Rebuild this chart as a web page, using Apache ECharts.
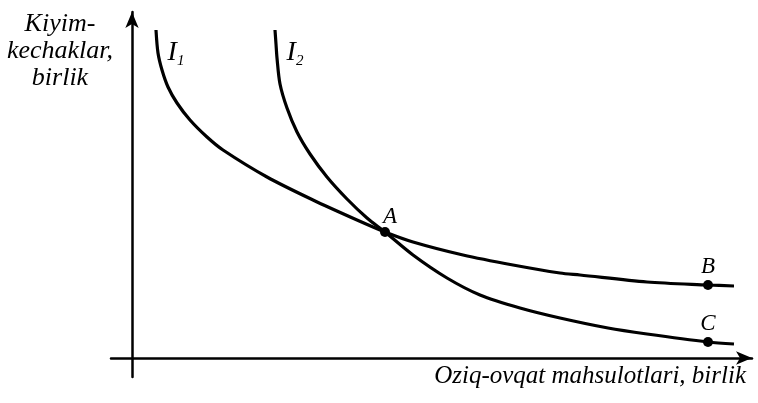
<!DOCTYPE html>
<html>
<head>
<meta charset="utf-8">
<script src="https://cdn.jsdelivr.net/npm/echarts@6/dist/echarts.min.js"></script>
<style>html,body{margin:0;padding:0;background:#fff}#c{width:758px;height:403px}</style>
</head>
<body>
<div id="c"></div>
<script>
// Indifference curve I1
var i1X = [24, 26, 30, 36, 45, 58, 75, 91, 135, 181, 225, 253, 281, 331, 381, 428, 448, 515, 576, 602];
var i1Y = [328, 305, 288, 271, 255, 238, 221, 208, 181, 158, 138, 126, 116, 103, 93, 85, 83, 76, 73, 72];
// Indifference curve I2
var i2X = [143, 144, 145, 148, 155, 165, 178, 195, 215, 235, 253, 281, 315, 348, 388, 428, 476, 515, 576, 602];
var i2Y = [328, 314, 300, 274, 250, 226, 204, 181, 159, 140, 126, 103, 80, 63, 50, 40, 30, 24, 16, 14];
// Marked points
var pointNames = ['A', 'B', 'C'];
var pointX = [253, 576, 576];
var pointY = [126, 73, 16];
// Curve labels
var curveNames = ['1', '2'];
var curveLabelX = [44, 163];
var curveLabelY = [305, 305];
var yAxisTitle = 'Kiyim-\nkechaklar,\nbirlik';
var xAxisTitle = 'Oziq-ovqat mahsulotlari, birlik';

function zip(xs, ys) { return xs.map(function (x, i) { return [x, ys[i]]; }); }

var serif = '"Liberation Serif", "DejaVu Serif", serif';
var chart = echarts.init(document.getElementById('c'));
chart.setOption({
  animation: false,
  backgroundColor: '#fff',
  grid: { left: 111, right: 6, top: 12, bottom: 26 },
  xAxis: {
    type: 'value', min: -21, max: 620,
    axisLine: { onZero: true, lineStyle: { color: '#000', width: 2.5 }, symbol: ['none', 'arrow'], symbolSize: [10, 16] },
    axisTick: { show: false }, axisLabel: { show: false }, splitLine: { show: false }
  },
  yAxis: {
    type: 'value', min: -19, max: 346,
    axisLine: { onZero: true, lineStyle: { color: '#000', width: 2.5 }, symbol: ['none', 'arrow'], symbolSize: [10, 16] },
    axisTick: { show: false }, axisLabel: { show: false }, splitLine: { show: false }
  },
  graphic: [
    { type: 'text', x: 60, y: 11, style: { text: yAxisTitle, font: 'italic 26px ' + serif, fill: '#000', align: 'center', verticalAlign: 'top', lineHeight: 27 } },
    { type: 'text', x: 746, y: 364, style: { text: xAxisTitle, font: 'italic 25px ' + serif, fill: '#000', align: 'right', verticalAlign: 'top' } }
  ],
  series: [
    { type: 'line', data: zip(i1X, i1Y), smooth: 0.3, symbol: 'none', lineStyle: { color: '#000', width: 3.2 } },
    { type: 'line', data: zip(i2X, i2Y), smooth: 0.3, symbol: 'none', lineStyle: { color: '#000', width: 3.2 } },
    {
      type: 'scatter', symbolSize: 10, itemStyle: { color: '#000', opacity: 1 },
      data: pointNames.map(function (n, i) {
        return { name: n, value: [pointX[i], pointY[i]], label: i === 0 ? { offset: [5, 3] } : {} };
      }),
      label: { show: true, position: 'top', distance: 2, formatter: '{b}', color: '#000', opacity: 1, fontFamily: serif, fontStyle: 'italic', fontSize: 23 }
    },
    {
      type: 'scatter', symbolSize: 1, itemStyle: { color: 'rgba(0,0,0,0)', opacity: 1 },
      data: curveNames.map(function (n, i) { return { name: n, value: [curveLabelX[i], curveLabelY[i]] }; }),
      label: {
        show: true, position: 'inside', formatter: '{i|I}{s|{b}}', opacity: 1,
        rich: {
          i: { fontFamily: serif, fontStyle: 'italic', fontSize: 28, color: '#000' },
          s: { fontFamily: serif, fontStyle: 'italic', fontSize: 15, color: '#000', padding: [16, 0, 0, 0] }
        }
      }
    }
  ]
});
</script>
</body>
</html>
